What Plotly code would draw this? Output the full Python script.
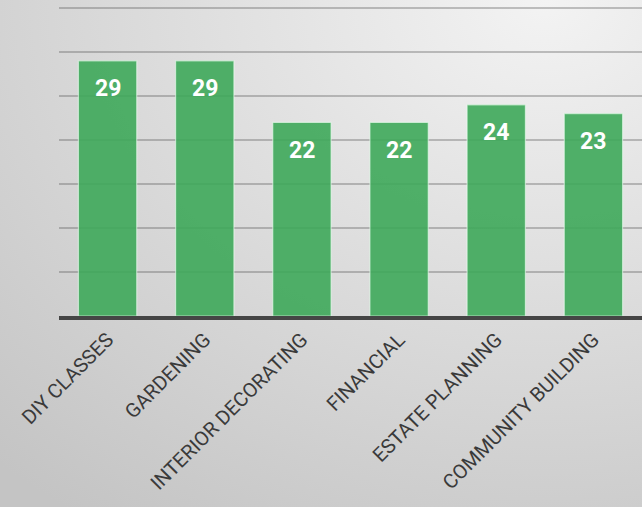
import base64
import plotly.graph_objects as go

categories = ["DIY CLASSES", "GARDENING", "INTERIOR DECORATING", "FINANCIAL",
              "ESTATE PLANNING", "COMMUNITY BUILDING"]
values = [29, 29, 22, 22, 24, 23]

svg = ('<svg xmlns="http://www.w3.org/2000/svg" width="642" height="507">'
       '<defs><radialGradient id="g" cx="0.85" cy="0" r="1.25">'
       '<stop offset="0" stop-color="#f3f3f3"/>'
       '<stop offset="1" stop-color="#c4c4c4"/>'
       '</radialGradient></defs>'
       '<rect width="642" height="507" fill="url(#g)"/></svg>')
bg = "data:image/svg+xml;base64," + base64.b64encode(svg.encode()).decode()

fig = go.Figure(go.Bar(
    x=categories, y=values,
    marker=dict(color="rgba(62,168,90,0.9)",
                line=dict(color="rgba(235,255,240,0.6)", width=1.2)),
    hoverinfo="x+y",
))

for c, v in zip(categories, values):
    fig.add_annotation(x=c, y=v, text=str(v), showarrow=False, yshift=-28,
                       yanchor="middle",
                       font=dict(family="Roboto", size=23,
                                 color="white", weight="bold"))

T = 4
fig.update_layout(
    width=642, height=507,
    margin=dict(l=59, r=0, t=T, b=191),
    paper_bgcolor="rgba(0,0,0,0)", plot_bgcolor="rgba(0,0,0,0)",
    bargap=0.4,
    showlegend=False,
    images=[dict(source=bg, xref="paper", yref="paper", x=-59/583,
                 y=1 + T/(312 - T + 0) if False else 1 + T/(316 - T),
                 sizex=642/583, sizey=507/(316 - T), xanchor="left", yanchor="top",
                 sizing="stretch", layer="below")],
    xaxis=dict(showline=True, linecolor="#454545", linewidth=4,
               tickangle=-45, ticks="", showgrid=False,
               tickfont=dict(family="Roboto", size=20, color="#3a3a3a")),
    yaxis=dict(range=[0, (316 - T) / 8.8], dtick=5, showticklabels=False, ticks="",
               gridcolor="rgba(90,90,90,0.35)", gridwidth=2, zeroline=False),
)
fig.write_html("out.html", config={"displayModeBar": False},
               post_script="document.body.style.margin='0';"
                           "document.body.style.background='#c8c8c8';")
